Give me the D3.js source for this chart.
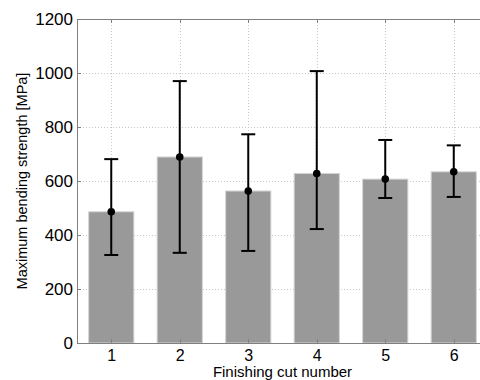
<!DOCTYPE html>
<html lang="en">
<head>
    <meta charset="UTF-8">
    <title>Bending strength</title>
    <script src="https://cdnjs.cloudflare.com/ajax/libs/d3/7.8.5/d3.min.js"></script>
    <style>
        body { margin: 0; background: #fff; }
        text { font-family: "Liberation Sans", Arial, sans-serif; fill: #000; }
    </style>
</head>
<body>
    <svg width="480" height="380"></svg>
    <script>
        "use strict";

        // data
        const cuts = [1, 2, 3, 4, 5, 6];
        const means = [486, 689, 563, 628, 607, 634];
        const upper = [681, 970, 773, 1007, 752, 732];
        const lower = [326, 334, 341, 422, 537, 541];
        const yTicks = [0, 200, 400, 600, 800, 1000, 1200];

        const svg = d3.select("svg");
        const plotL = 77, plotR = 488, plotT = 19, plotB = 343;

        const x = d3.scaleLinear().domain([0.5, 6.5]).range([plotL, plotR]);
        const y = d3.scaleLinear().domain([0, 1200]).range([plotB, plotT]);
        const barW = (x(2) - x(1)) * 0.66;

        // grid
        const grid = svg.append("g")
            .attr("stroke", "#c8c8c8")
            .attr("stroke-width", 1)
            .attr("stroke-dasharray", "1,2");
        grid.selectAll("line.h")
            .data(yTicks.slice(1, -1))
            .enter().append("line")
            .attr("x1", plotL).attr("x2", plotR)
            .attr("y1", d => Math.round(y(d)) + 0.5)
            .attr("y2", d => Math.round(y(d)) + 0.5);
        grid.selectAll("line.v")
            .data(cuts)
            .enter().append("line")
            .attr("y1", plotT).attr("y2", plotB)
            .attr("x1", d => Math.round(x(d)) + 0.5)
            .attr("x2", d => Math.round(x(d)) + 0.5);

        // bars
        svg.append("g").selectAll("rect")
            .data(cuts)
            .enter().append("rect")
            .attr("x", d => x(d) - barW / 2)
            .attr("width", barW)
            .attr("y", (d, i) => y(means[i]))
            .attr("height", (d, i) => plotB - y(means[i]))
            .attr("fill", "#999999")
            .attr("stroke", "#d4d4d4")
            .attr("stroke-width", 1);

        // error bars
        const err = svg.append("g").attr("stroke", "#000").attr("stroke-width", 2);
        cuts.forEach((c, i) => {
            const cx = x(c);
            err.append("line").attr("x1", cx).attr("x2", cx).attr("y1", y(upper[i])).attr("y2", y(lower[i]));
            err.append("line").attr("x1", cx - 7).attr("x2", cx + 7).attr("y1", y(upper[i])).attr("y2", y(upper[i]));
            err.append("line").attr("x1", cx - 7).attr("x2", cx + 7).attr("y1", y(lower[i])).attr("y2", y(lower[i]));
        });
        svg.append("g").selectAll("circle")
            .data(cuts)
            .enter().append("circle")
            .attr("cx", d => x(d))
            .attr("cy", (d, i) => y(means[i]))
            .attr("r", 3.8)
            .attr("fill", "#000");

        // axes
        const yAxis = svg.append("g")
            .attr("transform", `translate(${plotL},0)`)
            .call(d3.axisLeft(y).tickValues(yTicks).tickFormat(d3.format("d")).tickSize(0).tickPadding(4));
        yAxis.select(".domain").remove();
        yAxis.selectAll("text").attr("font-size", 17).attr("font-family", null);

        const xAxis = svg.append("g")
            .attr("transform", `translate(0,${plotB})`)
            .call(d3.axisBottom(x).tickValues(cuts).tickFormat(d3.format("d")).tickSize(0).tickPadding(7));
        xAxis.select(".domain").remove();
        xAxis.selectAll("text").attr("font-size", 16).attr("font-family", null);

        // inside tick marks (box on)
        const ticks = svg.append("g").attr("stroke", "#808080").attr("stroke-width", 1);
        cuts.forEach(c => {
            const px = Math.round(x(c)) + 0.5;
            ticks.append("line").attr("x1", px).attr("x2", px).attr("y1", plotT).attr("y2", plotT + 4);
            ticks.append("line").attr("x1", px).attr("x2", px).attr("y1", plotB).attr("y2", plotB - 4);
        });
        yTicks.forEach(t => {
            const py = Math.round(y(t)) + 0.5;
            ticks.append("line").attr("x1", plotL).attr("x2", plotL + 4).attr("y1", py).attr("y2", py);
        });

        // frame
        svg.append("path")
            .attr("d", `M${plotR},${plotT + 0.5}H${plotL + 0.5}V${plotB + 0.5}H${plotR}`)
            .attr("fill", "none")
            .attr("stroke", "#808080")
            .attr("stroke-width", 1);

        // titles
        svg.append("text")
            .attr("x", (plotL + plotR) / 2)
            .attr("y", 377)
            .attr("text-anchor", "middle")
            .attr("font-size", 15)
            .text("Finishing cut number");
        svg.append("text")
            .attr("transform", `translate(27,${(plotT + plotB) / 2}) rotate(-90)`)
            .attr("text-anchor", "middle")
            .attr("font-size", 14.5)
            .text("Maximum bending strength [MPa]");
    </script>
</body>
</html>
